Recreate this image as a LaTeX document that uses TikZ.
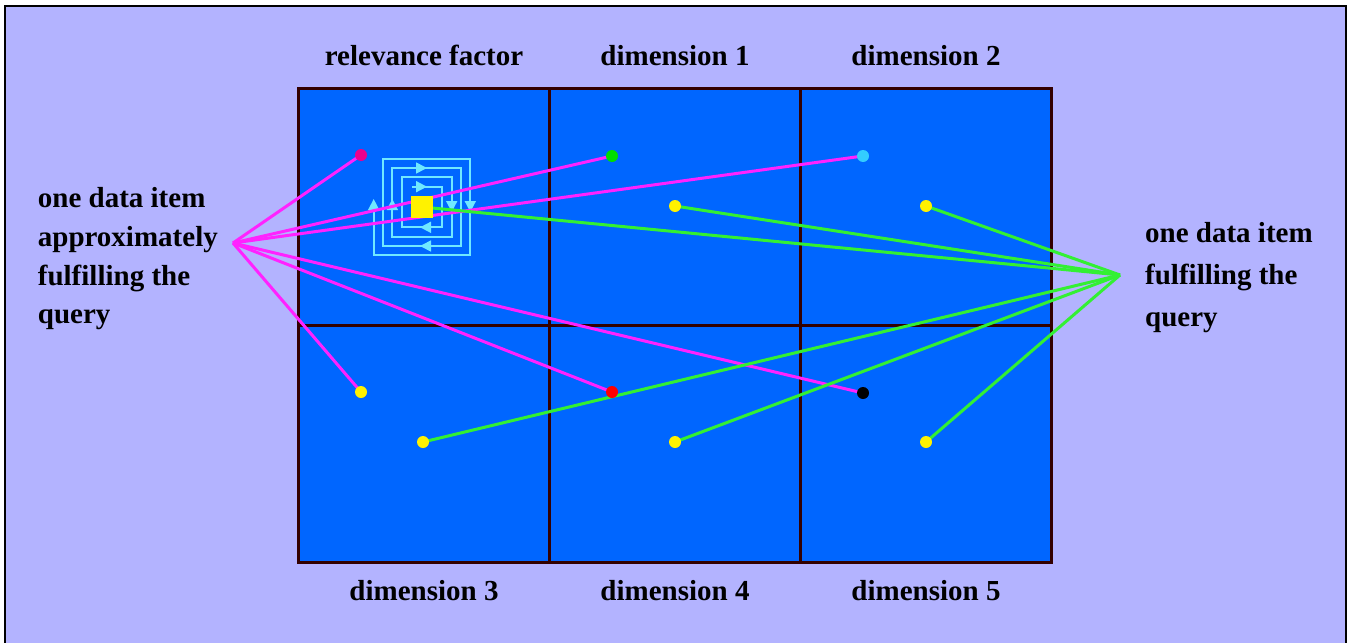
\documentclass[tikz,border=0pt]{standalone}
\usepackage{fontspec}
\setmainfont{Liberation Serif}
\usepackage{xcolor}
\usetikzlibrary{arrows.meta, positioning}

\definecolor{framebg}{HTML}{B3B3FF}
\definecolor{cellblue}{HTML}{0066FF}
\definecolor{cellline}{HTML}{330000}
\definecolor{spiralcyan}{HTML}{70E8FF}
\definecolor{linemagenta}{HTML}{FF22FF}
\definecolor{linegreen}{HTML}{33F033}
\definecolor{dotgreen}{HTML}{00DD00}
\definecolor{dotcyan}{HTML}{33CCFF}

\pgfdeclarelayer{front}
\pgfsetlayers{main,front}

\begin{document}
\begin{tikzpicture}[x=1pt, y=-1pt, node distance=20pt,
  cell/.style={draw=cellline, fill=cellblue, line width=3pt, minimum width=251pt, minimum height=237pt, inner sep=0pt, outer sep=0pt},
  head/.style={font=\fontsize{29}{35}\selectfont\bfseries, inner sep=0pt},
  note/.style={align=left, inner sep=0pt, font=\fontsize{29}{38.7}\selectfont\bfseries},
  notewide/.style={note, font=\fontsize{29}{42}\selectfont\bfseries},
  dot/.style={circle, inner sep=0pt, minimum size=12pt},
  spiral/.style={draw=spiralcyan, line width=1.7pt},
  tip/.style={spiral, -{Triangle[length=11pt, width=11pt]}},
  approxline/.style={draw=linemagenta, line width=3pt},
  exactline/.style={draw=linegreen, line width=3pt}]
\useasboundingbox (0,0) rectangle (1356,642);
\draw[line width=2pt, fill=framebg] (5,6) rectangle (1346,680);

% the six sub-spaces
\node[cell] (rf) at (424,206.5) {};
\node[cell, right=0pt of rf] (dim1) {};
\node[cell, right=0pt of dim1] (dim2) {};
\node[cell, below=0pt of rf] (dim3) {};
\node[cell, right=0pt of dim3] (dim4) {};
\node[cell, right=0pt of dim4] (dim5) {};

\node[head, above=22pt of rf] {relevance factor};
\node[head, above=22pt of dim1] {dimension 1};
\node[head, above=22pt of dim2] {dimension 2};
\node[head, below=18pt of dim3] {dimension 3};
\node[head, below=18pt of dim4] {dimension 4};
\node[head, below=18pt of dim5] {dimension 5};

% search spiral round the query point
\begin{scope}[shift={(422,207)}]
  \draw[tip] (-10,-20.3) -- (20.3,-20.3) -- (20.3,20.3) -- (-20.3,20.3) -- (-20.3,-29.7)
    -- (29.7,-29.7) -- (29.7,29.7) -- (-29.7,29.7) -- (-29.7,-39) -- (39,-39) -- (39,39)
    -- (-39,39) -- (-39,-48.3) -- (48.3,-48.3) -- (48.3,48.3) -- (-48.3,48.3) -- (-48.3,-8);
  \foreach \x/\y/\dx/\dy in {5/-20.3/1/0, -2/20.3/-1/0, 29.7/5/0/1, -29.7/-8/0/-1,
                             5/-39/1/0, -2/39/-1/0, 48.3/5/0/1}
    \draw[tip] ({\x-\dx},{\y-\dy}) -- (\x,\y);
\end{scope}

% data items
\begin{pgfonlayer}{front}
\node[fill=yellow, minimum size=22pt, inner sep=0pt] (sq) at (422,207) {};
\node[dot, fill=magenta] (rf1) at (361,155) {};
\node[dot, fill=dotgreen] (d1a) at (612,156) {};
\node[dot, fill=yellow] (d1b) at (675,206) {};
\node[dot, fill=dotcyan] (d2a) at (863,156) {};
\node[dot, fill=yellow] (d2b) at (926,206) {};
\node[dot, fill=yellow] (d3a) at (361,392) {};
\node[dot, fill=yellow] (d3b) at (423,442) {};
\node[dot, fill=red] (d4a) at (612,392) {};
\node[dot, fill=yellow] (d4b) at (675,442) {};
\node[dot, fill=black] (d5a) at (863,393) {};
\node[dot, fill=yellow] (d5b) at (926,442) {};
\end{pgfonlayer}

\coordinate (approx) at (233,243);
\coordinate (exact) at (1120,275);

\foreach \d in {rf1, d1a, d2a, d3a, d4a, d5a}
  \draw[approxline] (approx) -- (\d.center);
\foreach \d in {sq, d1b, d2b, d3b, d4b, d5b}
  \draw[exactline] (exact) -- (\d.center);

\node[note, left=15pt of approx, yshift=-16pt] {one data item\\approximately\\fulfilling the\\query};
\node[notewide, right=25pt of exact, yshift=-3pt] {one data item\\fulfilling the\\query};
\end{tikzpicture}
\end{document}
